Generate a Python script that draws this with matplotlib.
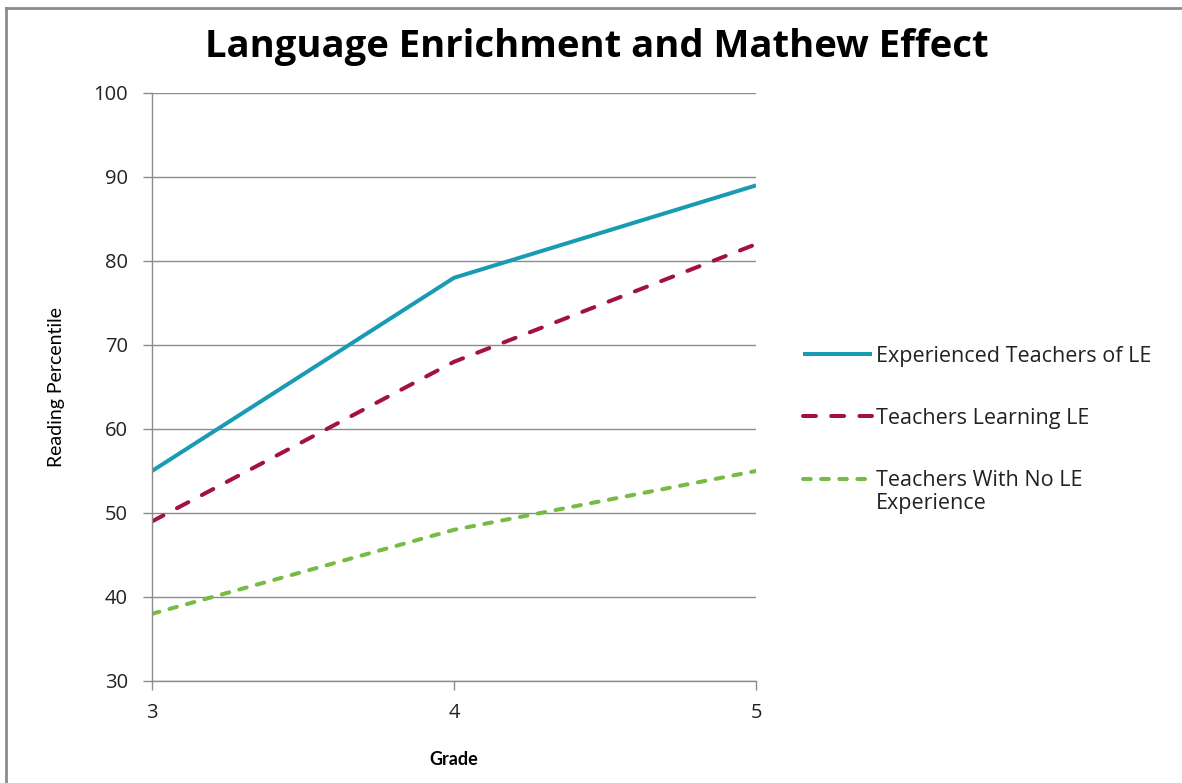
import matplotlib
matplotlib.use("Agg")
import matplotlib.pyplot as plt
from matplotlib.lines import Line2D
from matplotlib.legend_handler import HandlerLine2D

grades = [3, 4, 5]
experienced = [55, 78, 89]
learning = [49, 68, 82]
no_experience = [38, 48, 55]

series_labels = ["Experienced Teachers of LE", "Teachers Learning LE",
                 "Teachers With No LE\nExperience"]
y_ticks = [30, 40, 50, 60, 70, 80, 90, 100]

plt.rcParams['font.family'] = ['Open Sans', 'DejaVu Sans']


class FirstLineHandler(HandlerLine2D):
    """Line handle aligned with the first line of a two-line label."""

    def __init__(self, shift, **kw):
        super().__init__(**kw)
        self.shift = shift

    def create_artists(self, legend, orig_handle, xdescent, ydescent,
                       width, height, fontsize, trans):
        return super().create_artists(legend, orig_handle, xdescent,
                                      ydescent - self.shift, width, height,
                                      fontsize, trans)


W, H = 1182, 783
fig = plt.figure(figsize=(W / 100, H / 100), dpi=100)
fig.patch.set_facecolor("white")

ax = fig.add_axes([152 / W, 1 - 681 / H, (756 - 152) / W, (681 - 93) / H])

lw = 2.9
l1, = ax.plot(grades, experienced, color="#1A9BB4", lw=lw,
              solid_capstyle="butt", label=series_labels[0])
l2, = ax.plot(grades, learning, color="#A3123E", lw=lw, dashes=(3.2, 3.8),
              dash_capstyle="round", label=series_labels[1])
l3, = ax.plot(grades, no_experience, color="#76BB43", lw=lw,
              dashes=(1.9, 2.6), dash_capstyle="round",
              label=series_labels[2])

ax.set_xlim(3, 5)
ax.set_ylim(30, 100)
ax.set_xticks(grades)
ax.set_yticks(y_ticks)
ax.grid(axis="y", color="#8C8C8C", lw=1)
ax.set_axisbelow(True)
for s in ["top", "right"]:
    ax.spines[s].set_visible(False)
for s in ["left", "bottom"]:
    ax.spines[s].set_color("#8C8C8C")
    ax.spines[s].set_linewidth(1)
ax.tick_params(axis="both", colors="#8C8C8C", length=6.5, width=1,
               labelcolor="#222222", labelsize=14.5)
ax.tick_params(axis="x", pad=9)
ax.tick_params(axis="y", pad=11)

ax.set_xlabel("Grade", fontsize=13, fontweight="bold",
              family=["Lato", "DejaVu Sans"])
ax.xaxis.set_label_coords(0.5, -(751 - 681) / 588)
ax.set_ylabel("Reading Percentile", fontsize=14,
              family=["Liberation Sans Narrow", "Lato", "DejaVu Sans"])
ax.yaxis.set_label_coords((57 - 152) / 604, 0.5)
ax.yaxis.label.set_va("center")

fig.text(597 / W, 1 - 47 / H, "Language Enrichment and Mathew Effect",
         ha="center", va="center", fontsize=27.5, fontweight="bold")

leg = ax.legend(loc="upper left",
                bbox_to_anchor=((803 - 152) / 604, (681 - 346) / 588),
                frameon=False, fontsize=15.5, handlelength=3.2,
                handletextpad=0.18, labelspacing=1.9, borderpad=0,
                borderaxespad=0,
                handler_map={l3: FirstLineHandler(shift=20)})
for t in leg.get_texts():
    t.set_color("#222222")
leg.get_texts()[2].set_linespacing(1.15)

# outer chart border (top and left edges)
fig.add_artist(Line2D([6 / W, 1.0], [1 - 8 / H, 1 - 8 / H], color="#8C8C8C",
                      lw=2, transform=fig.transFigure))
fig.add_artist(Line2D([6 / W, 6 / W], [0.0, 1 - 8 / H], color="#8C8C8C",
                      lw=2, transform=fig.transFigure))

fig.savefig("out.png", dpi=100)
